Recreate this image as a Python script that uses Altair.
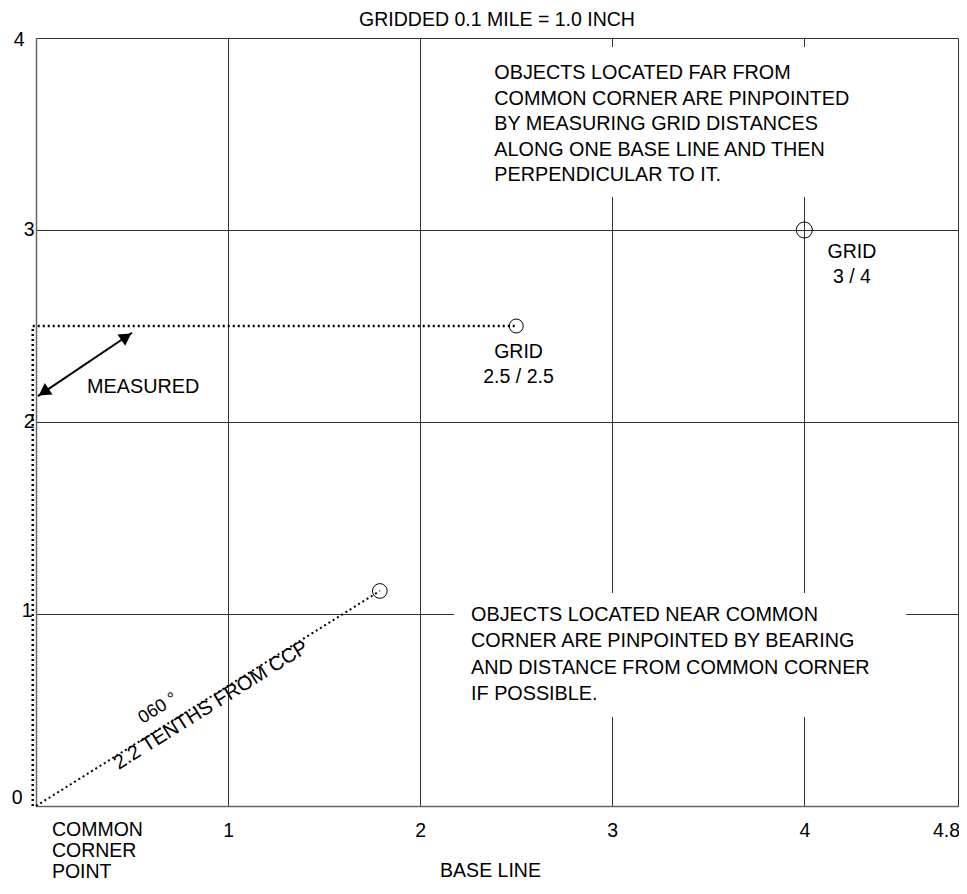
import altair as alt
import pandas as pd

FONT = "Liberation Sans"

# ---- data ----
x_ticks = [1, 2, 3, 4, 4.8]
y_ticks = [0, 1, 2, 3, 4]

# targets (circles)
target_x = [2.5, 4.0, 1.79]
target_y = [2.5, 3.0, 1.12]
target_size = [196, 256, 216]

# dotted measuring path (L-shape) and bearing line
measure_x = [-0.017, -0.017, 2.5]
measure_y = [0.0, 2.5, 2.5]
bearing_x = [0.0, 1.79]
bearing_y = [0.0, 1.12]

# double-headed arrow
arrow_x = [0.01, 0.5]
arrow_y = [2.135, 2.465]
head_x = [0.04, 0.47]
head_y = [2.156, 2.444]
head_angle = [236, 56]

# white label boxes
box_x0 = [2.286, 2.176]
box_x1 = [4.42, 4.53]
box_y0 = [3.172, 0.464]
box_y1 = [3.953, 1.109]

# text annotations (y = centre of first line)
far_text = ["OBJECTS LOCATED FAR FROM", "COMMON CORNER ARE PINPOINTED",
            "BY MEASURING GRID DISTANCES", "ALONG ONE BASE LINE AND THEN",
            "PERPENDICULAR TO IT."]
near_text = ["OBJECTS LOCATED NEAR COMMON", "CORNER ARE PINPOINTED BY BEARING",
             "AND DISTANCE FROM COMMON CORNER", "IF POSSIBLE."]
ccp_text = ["COMMON", "CORNER", "POINT"]

grid_text = [["GRID", "2.5 / 2.5"], ["GRID", "3 / 4"]]
grid_x = [2.512, 4.248]
grid_y = [2.366, 2.887]

rot_text = ["2.2 TENTHS FROM CCP", "060 \u00b0"]
rot_x = [0.911, 0.635]
rot_y = [0.525, 0.508]
rot_size = [20, 18]

# ---- scales / axes ----
xscale = alt.Scale(domain=[0, 4.8], nice=False, zero=False)
yscale = alt.Scale(domain=[0, 4], nice=False, zero=False)

xaxis = alt.Axis(
    values=x_ticks, title="BASE LINE", grid=True, ticks=False,
    labelExpr="format(datum.value, '~g')",
    labelFont=FONT, labelFontSize=19.5, labelColor="black", labelPadding=15,
    labelOffset={"condition": {"test": "datum.value == 4.8", "value": -12}, "value": 0},
    titleFont=FONT, titleFontSize=19.5, titleFontWeight="normal", titleColor="black",
    titlePadding=22, titleX=454, titleAlign="center",
    domainColor="#666", domainWidth=1.5,
    gridColor="#333", gridWidth=1, labelFlush=False, labelOverlap=False,
)
yaxis = alt.Axis(
    values=y_ticks, title=None, grid=True, ticks=False,
    labelExpr="format(datum.value, '~g')",
    labelFont=FONT, labelFontSize=19.5, labelColor="black",
    labelPadding={"condition": [{"test": "datum.value == 0", "value": 14},
                                {"test": "datum.value == 4", "value": 12},
                                {"test": "datum.value == 1", "value": 4}], "value": 2},
    labelOffset={"condition": [{"test": "datum.value == 4", "value": 1},
                               {"test": "datum.value == 0", "value": -9},
                               {"test": "datum.value == 1", "value": -4}], "value": -1},
    domainColor="#666", domainWidth=1.5,
    gridColor="#333", gridWidth=1, labelFlush=False, labelOverlap=False,
)


def X(f="x"):
    return alt.X(f, type="quantitative", scale=xscale, axis=xaxis)


def Y(f="y"):
    return alt.Y(f, type="quantitative", scale=yscale, axis=yaxis)


boxes = pd.DataFrame({"x": box_x0, "x2": box_x1, "y": box_y0, "y2": box_y1})
box_layer = alt.Chart(boxes).mark_rect(color="white", opacity=1).encode(
    x=X(), x2="x2:Q", y=Y(), y2="y2:Q"
)

measure = pd.DataFrame({"x": measure_x, "y": measure_y, "o": range(3)})
measure_layer = alt.Chart(measure).mark_line(
    color="black", strokeWidth=2.5, strokeDash=[2, 3]
).encode(x=X(), y=Y(), order="o:Q")

bearing = pd.DataFrame({"x": bearing_x, "y": bearing_y, "o": range(2)})
bearing_layer = alt.Chart(bearing).mark_line(
    color="black", strokeWidth=2, strokeDash=[2, 3]
).encode(x=X(), y=Y(), order="o:Q")

arrow = pd.DataFrame({"x": arrow_x, "y": arrow_y, "o": range(2)})
arrow_layer = alt.Chart(arrow).mark_line(color="black", strokeWidth=2).encode(
    x=X(), y=Y(), order="o:Q"
)

heads = pd.DataFrame({"x": head_x, "y": head_y, "a": head_angle})
head_layer = alt.Chart(heads).mark_point(
    shape="triangle-up", filled=True, color="black", size=190, opacity=1
).encode(x=X(), y=Y(), angle=alt.Angle("a:Q", scale=None))

targets = pd.DataFrame({"x": target_x, "y": target_y, "s": target_size})
target_layer = alt.Chart(targets).mark_point(
    shape="circle", filled=False, color="black", strokeWidth=1, opacity=1
).encode(x=X(), y=Y(), size=alt.Size("s:Q", scale=None, legend=None))


def note(lines, x, y, lh, align="left", size=19.8):
    df = pd.DataFrame({"x": [x], "y": [y], "t": [lines]})
    return alt.Chart(df).mark_text(
        font=FONT, fontSize=size, align=align, baseline="middle",
        lineHeight=lh, color="black",
    ).encode(x=X(), y=Y(), text="t")


far_layer = note(far_text, 2.386, 3.816, 25.4)
near_layer = note(near_text, 2.265, 0.995, 26.3)
meas_layer = note(["MEASURED"], 0.266, 2.182, 25)
ccp_layer = note(ccp_text, 0.083, -0.125, 21, size=19.5)

grids = pd.DataFrame({"x": grid_x, "y": grid_y, "t": grid_text})
grid_layer = alt.Chart(grids).mark_text(
    font=FONT, fontSize=19.5, align="center", baseline="middle", lineHeight=25,
    color="black",
).encode(x=X(), y=Y(), text="t")

rots = pd.DataFrame({"x": rot_x, "y": rot_y, "t": rot_text, "fs": rot_size})
rot_layer = alt.Chart(rots).mark_text(
    font=FONT, align="center", baseline="middle", angle=328, color="black",
).encode(x=X(), y=Y(), text="t", size=alt.Size("fs:Q", scale=None, legend=None))

chart = alt.layer(
    box_layer, measure_layer, bearing_layer, arrow_layer, head_layer,
    target_layer, far_layer, near_layer, meas_layer, ccp_layer, grid_layer,
    rot_layer,
).properties(
    width=922, height=768,
    title=alt.TitleParams("GRIDDED 0.1 MILE = 1.0 INCH", font=FONT, fontSize=19.5,
                          fontWeight="normal", color="black", anchor="middle",
                          offset=-1),
    autosize=alt.AutoSizeParams(type="none"),
    padding={"left": 28, "top": 30, "right": 1, "bottom": 78},
).configure_view(stroke="#333", strokeWidth=1).configure(background="white")

chart.save("out.html", embed_options={"renderer": "svg", "actions": False})
